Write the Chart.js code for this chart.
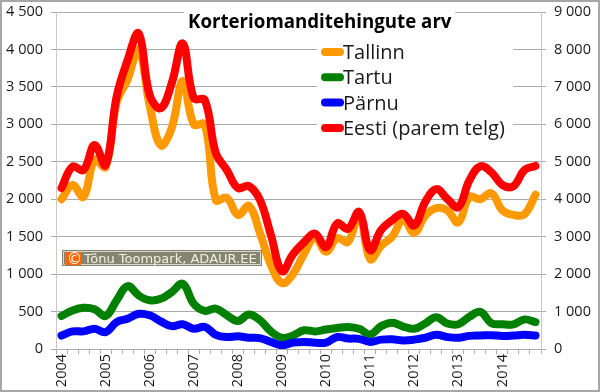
<!DOCTYPE html>
<html>
<head>
<meta charset="utf-8">
<title>Korteriomanditehingute arv</title>
<script src="https://cdn.jsdelivr.net/npm/chart.js@4"></script>
<style>
    html, body { margin: 0; padding: 0; background: #fff; }
    canvas { display: block; }
</style>
</head>
<body>
<canvas id="chart" width="600" height="392"></canvas>
<script>
const quarters = [
    '2004', '', '', '', '2005', '', '', '', '2006', '', '', '',
    '2007', '', '', '', '2008', '', '', '', '2009', '', '', '',
    '2010', '', '', '', '2011', '', '', '', '2012', '', '', '',
    '2013', '', '', '', '2014', '', '', ''
];
const tallinn = [
    2000, 2190, 2030, 2530, 2430, 3290, 3600, 4000, 3250, 2720, 2950, 3580,
    3000, 3000, 1990, 2020, 1790, 1910, 1550, 1120, 880, 1000, 1270, 1490,
    1300, 1480, 1430, 1800, 1200, 1380, 1500, 1730, 1550, 1780, 1880, 1850,
    1690, 2030, 2000, 2080, 1850, 1790, 1800, 2060
];
const tartu = [
    440, 515, 550, 530, 440, 650, 840, 715, 650, 670, 760, 870,
    605, 510, 540, 450, 375, 460, 385, 235, 150, 180, 250, 235,
    260, 280, 295, 270, 195, 305, 350, 300, 270, 340, 425, 340,
    330, 430, 495, 345, 330, 330, 395, 360
];
const parnu = [
    180, 235, 235, 270, 225, 360, 405, 470, 450, 370, 305, 330,
    270, 295, 190, 160, 170, 150, 145, 95, 50, 85, 95, 85,
    85, 160, 140, 135, 95, 125, 130, 115, 125, 150, 190, 160,
    150, 175, 180, 185, 175, 180, 190, 180
];
const eesti = [
    4300, 4870, 4780, 5450, 4910, 6740, 7720, 8430, 6780, 6430, 7100, 8160,
    6700, 6650, 5230, 4780, 4300, 4350, 3980, 3040, 2080, 2530, 2850, 3080,
    2720, 3350, 3210, 3660, 2640, 3180, 3440, 3610, 3300, 3930, 4270, 4010,
    3790, 4500, 4880, 4720, 4380, 4350, 4780, 4890
];
const seriesNames = ['Tallinn', 'Tartu', 'Pärnu', 'Eesti (parem telg)'];
const seriesColors = ['#ff9900', '#008000', '#0000ff', '#ff0000'];
const titleText = 'Korteriomanditehingute arv';
const creditText = 'Tõnu Toompark, ADAUR.EE';

const gridColor = '#ababab';
const fmt = v => v >= 1000 ? Math.floor(v / 1000) + ' ' + String(v % 1000).padStart(3, '0') : String(v);

// title, legend and credit box sit on top of the grid, so they are drawn by hand
const overlay = {
    id: 'overlay',
    beforeDraw(chart) {
        const ctx = chart.ctx;
        ctx.save();
        ctx.fillStyle = '#fff';
        ctx.fillRect(0, 0, 600, 392);
        ctx.restore();
    },
    beforeDatasetsDraw(chart) {
        const ctx = chart.ctx;
        ctx.save();
        ctx.fillStyle = '#fff';
        ctx.fillRect(184, 4, 271, 32);
        ctx.fillRect(317, 38, 196, 110);

        ctx.fillStyle = '#000';
        ctx.textBaseline = 'alphabetic';
        ctx.font = 'bold 18.7px "Open Sans"';
        ctx.fillText(titleText, 188, 28);

        ctx.font = '20px "Open Sans"';
        ctx.fillStyle = '#1a1a1a';
        seriesNames.forEach((name, i) => {
            const y = 52 + i * 25.3;
            ctx.strokeStyle = seriesColors[i];
            ctx.lineWidth = 8;
            ctx.lineCap = 'round';
            ctx.beginPath();
            ctx.moveTo(325, y);
            ctx.lineTo(340, y);
            ctx.stroke();
            ctx.fillText(name, 343, y + 7);
        });
        ctx.restore();
    },
    afterDraw(chart) {
        const ctx = chart.ctx;
        ctx.save();
        ctx.fillStyle = '#85856f';
        ctx.fillRect(62, 250, 200, 16);
        ctx.strokeStyle = '#d8d8d0';
        ctx.lineWidth = 1;
        ctx.strokeRect(63.5, 251.5, 197, 13);
        ctx.fillStyle = '#ff6600';
        ctx.fillRect(65, 252, 16, 13);
        ctx.fillStyle = '#f0f0e8';
        ctx.textBaseline = 'alphabetic';
        ctx.font = '13px "DejaVu Sans"';
        ctx.fillText(creditText, 84, 263);
        ctx.fillStyle = '#fff';
        ctx.font = '15px "DejaVu Sans"';
        ctx.fillText('©', 67, 264);
        ctx.strokeStyle = '#a6a6a6';
        ctx.lineWidth = 2;
        ctx.strokeRect(1, 1, 598, 390);
        ctx.restore();
    }
};

function makeLine(i, values, axis) {
    return {
        label: seriesNames[i],
        data: values,
        yAxisID: axis,
        borderColor: seriesColors[i],
        backgroundColor: seriesColors[i],
        borderWidth: 8,
        borderCapStyle: 'round',
        borderJoinStyle: 'round',
        pointRadius: 0,
        tension: 0.4,
        order: 4 - i
    };
}

// the y scales would otherwise push the plot down by half a label height
function fixY(width) {
    return scale => {
        scale.width = width;
        scale.paddingTop = 0;
        scale.paddingBottom = 0;
    };
}

new Chart(document.getElementById('chart'), {
    type: 'line',
    data: {
        labels: quarters,
        datasets: [
            makeLine(0, tallinn, 'y'),
            makeLine(1, tartu, 'y'),
            makeLine(2, parnu, 'y'),
            makeLine(3, eesti, 'y2')
        ]
    },
    options: {
        responsive: false,
        animation: false,
        layout: { padding: { top: 12, left: 0, right: 0, bottom: 0 } },
        plugins: { legend: { display: false }, title: { display: false }, tooltip: { enabled: false } },
        scales: {
            x: {
                offset: true,
                afterFit(scale) {
                    scale.height = 43;
                    scale.paddingLeft = 0;
                    scale.paddingRight = 0;
                },
                grid: { offset: true, drawOnChartArea: false, color: gridColor, tickLength: 5 },
                border: { color: gridColor },
                ticks: {
                    autoSkip: false,
                    maxRotation: 90,
                    minRotation: 90,
                    padding: 0,
                    color: '#1a1a1a',
                    font: { family: '"Open Sans"', size: 14.5 }
                }
            },
            y: {
                position: 'left',
                min: 0,
                max: 4500,
                afterFit: fixY(56),
                grid: { color: gridColor, tickLength: 5 },
                border: { color: '#c8c8c8' },
                ticks: {
                    stepSize: 500,
                    padding: 8,
                    color: '#1a1a1a',
                    callback: fmt,
                    font: { family: '"Open Sans"', size: 14.5 }
                }
            },
            y2: {
                position: 'right',
                min: 0,
                max: 9000,
                afterFit: fixY(59),
                grid: { drawOnChartArea: false, color: gridColor, tickLength: 5 },
                border: { color: '#c8c8c8' },
                ticks: {
                    stepSize: 1000,
                    padding: 8,
                    color: '#1a1a1a',
                    callback: fmt,
                    font: { family: '"Open Sans"', size: 14.5 }
                }
            }
        }
    },
    plugins: [overlay]
});
</script>
</body>
</html>
